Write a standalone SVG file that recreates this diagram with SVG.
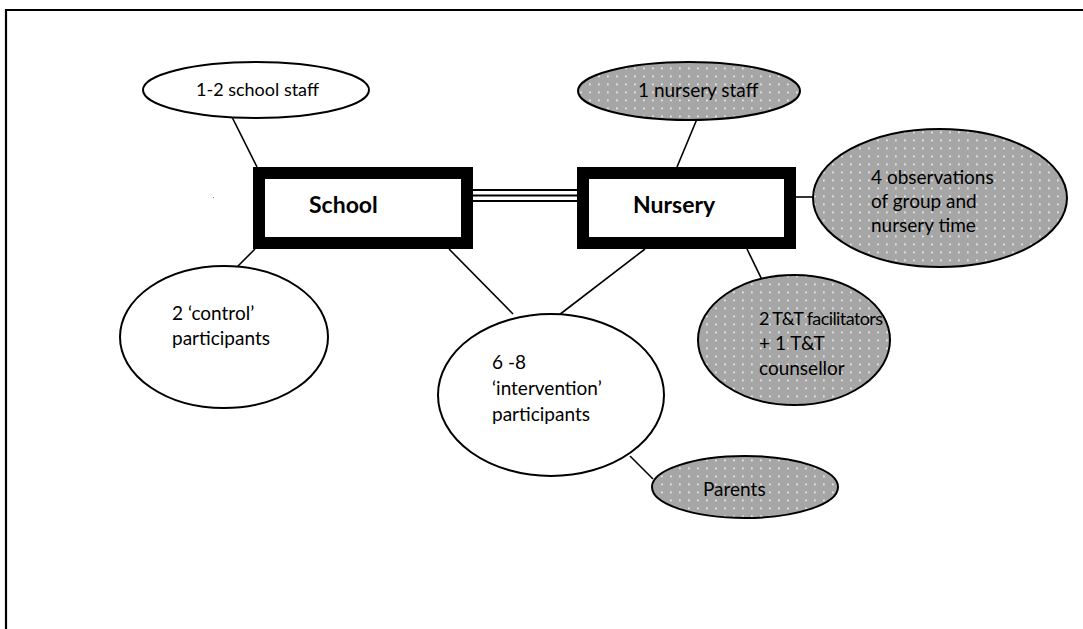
<svg xmlns="http://www.w3.org/2000/svg" width="1083" height="629" viewBox="0 0 1083 629">
  <style>
    .t { font-family: Lato, "Liberation Sans", sans-serif; font-size: 19px; fill: #000; }
    .s { font-size: 18px; }
    .b { font-family: Lato, "Liberation Sans", sans-serif; font-size: 23px; font-weight: bold; fill: #000; }
    .w { fill: #fff; stroke: #000; stroke-width: 2; }
    .g { fill: url(#dots); stroke: #000; stroke-width: 2; }
    .box { fill: #fff; stroke: #000; stroke-width: 12; }
    .c { stroke: #000; stroke-width: 1.6; fill: none; }
  </style>
  <defs>
    <pattern id="dots" x="0" y="0" width="9" height="8" patternUnits="userSpaceOnUse">
      <rect width="9" height="8" fill="#a6a6a6"/>
      <rect x="4" y="3.5" width="1.8" height="1.8" fill="#e6e6e6"/>
    </pattern>
  </defs>
  <rect width="1083" height="629" fill="#fff"/>
  <g id="frame">
    <line x1="5" y1="10" x2="1083" y2="10" stroke="#000" stroke-width="2.2"/>
    <line x1="6" y1="9" x2="6" y2="629" stroke="#000" stroke-width="2.2"/>
    <rect x="213" y="197" width="1" height="1" fill="#888"/>
  </g>
  <g id="connectors">
    <line class="c" x1="232" y1="117" x2="257" y2="167"/>
    <line class="c" x1="697" y1="119" x2="677" y2="167"/>
    <line class="c" x1="796" y1="197" x2="814" y2="197"/>
    <line class="c" x1="747" y1="249" x2="767" y2="290"/>
    <line class="c" x1="237" y1="267" x2="255" y2="249"/>
    <line class="c" x1="449" y1="249" x2="513" y2="314"/>
    <line class="c" x1="645" y1="249" x2="559" y2="315"/>
    <line class="c" x1="630" y1="456" x2="653" y2="479"/>
    <line x1="473" y1="190" x2="577" y2="190" stroke="#000" stroke-width="1.8"/>
    <line x1="473" y1="195.5" x2="577" y2="195.5" stroke="#000" stroke-width="2.2"/>
    <line x1="473" y1="201" x2="577" y2="201" stroke="#000" stroke-width="1.8"/>
  </g>
  <g id="school">
    <rect class="box" x="259" y="173" width="208" height="70"/>
    <text class="b" x="309" y="213">School</text>
  </g>
  <g id="nursery">
    <rect class="box" x="583" y="173" width="207" height="70"/>
    <text class="b" x="633" y="213">Nursery</text>
  </g>
  <g id="school-staff">
    <ellipse class="w" cx="256" cy="90" rx="113" ry="28"/>
    <text class="t s" x="196" y="96">1-2 school staff</text>
  </g>
  <g id="nursery-staff">
    <ellipse class="g" cx="689" cy="91" rx="111" ry="29"/>
    <text class="t" x="638" y="97">1 nursery staff</text>
  </g>
  <g id="observations">
    <ellipse class="g" cx="940" cy="198" rx="127" ry="69"/>
    <text class="t" x="871" y="184">4 observations</text>
    <text class="t" x="871" y="208">of group and</text>
    <text class="t" x="871" y="232">nursery time</text>
  </g>
  <g id="facilitators">
    <ellipse class="g" cx="794" cy="340" rx="96" ry="65"/>
    <text class="t s" x="759" y="325" textLength="124" lengthAdjust="spacing">2 T&amp;T facilitators</text>
    <text class="t" x="759" y="350">+ 1 T&amp;T</text>
    <text class="t" x="759" y="375">counsellor</text>
  </g>
  <g id="control">
    <ellipse class="w" cx="224" cy="337" rx="104" ry="71"/>
    <text class="t" x="172" y="320">2 ‘control’</text>
    <text class="t" x="172" y="345">participants</text>
  </g>
  <g id="intervention">
    <ellipse class="w" cx="551" cy="395" rx="113" ry="81"/>
    <text class="t" x="492" y="369">6 -8</text>
    <text class="t" x="492" y="395">‘intervention’</text>
    <text class="t" x="492" y="421">participants</text>
  </g>
  <g id="parents">
    <ellipse class="g" cx="745" cy="487" rx="93" ry="31"/>
    <text class="t" x="703" y="496">Parents</text>
  </g>
</svg>
